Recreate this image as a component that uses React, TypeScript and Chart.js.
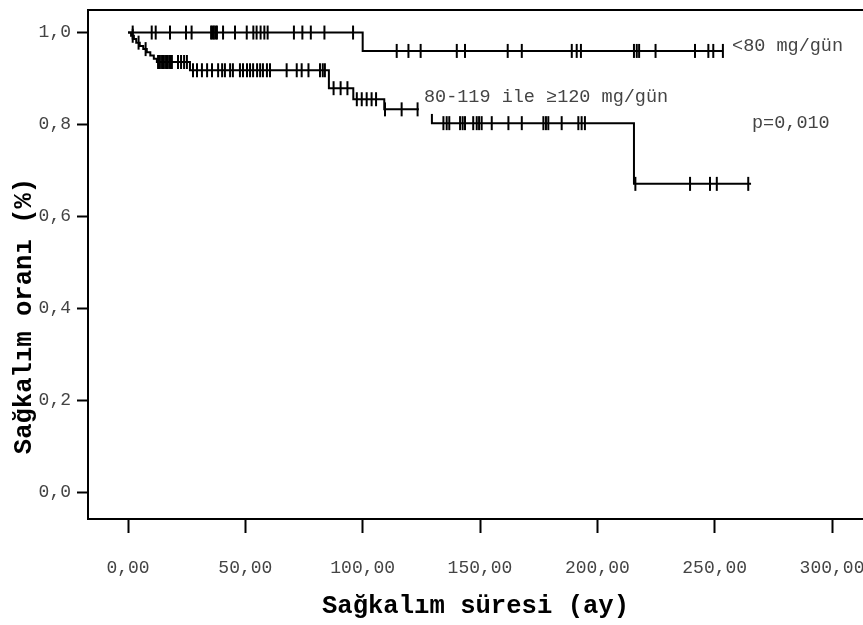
import React, { useEffect, useRef } from 'react';
import { Chart, registerables } from 'chart.js';

Chart.register(...registerables);

// ---- Axis ticks ----
const xTickValues = [0, 50, 100, 150, 200, 250, 300];
const yTickValues = [0, 0.2, 0.4, 0.6, 0.8, 1.0];

// ---- Group <80 mg/gün (Kaplan–Meier) ----
const lowEventTimes = [0, 100.0];
const lowSurvival = [1.0, 0.96];
const lowLastTime = 253.5;
const lowCensored = [
  2.0, 10.1, 11.8, 17.9, 24.7, 27.1, 35.4, 36.0, 36.6, 37.3, 37.9, 40.5, 45.6,
  50.6, 53.4, 54.8, 56.5, 58.1, 59.5, 70.7, 74.3, 77.9, 83.7, 95.9, 114.5,
  119.5, 124.7, 140.1, 143.6, 161.8, 167.8, 189.1, 191.2, 193.0, 215.6, 216.8,
  217.8, 224.8, 241.6, 247.3, 249.4, 253.5,
];

// ---- Group 80-119 ile ≥120 mg/gün (Kaplan–Meier) ----
const highEventTimes = [
  0, 1.3, 2.5, 3.5, 5.0, 6.5, 8.0, 9.5, 11.0, 12.3, 26.4, 85.6, 96.0, 109.2,
  129.5, 215.6,
];
const highSurvival = [
  1.0, 0.993, 0.986, 0.978, 0.971, 0.964, 0.957, 0.95, 0.943, 0.936, 0.918,
  0.879, 0.855, 0.833, 0.803, 0.671,
];
const highLastTime = 265.5;
const highCensored = [
  2.0, 4.5, 7.5, 12.8, 13.6, 14.5, 15.3, 16.2, 17.0, 17.9, 18.7, 21.3, 22.6,
  23.9, 25.1, 27.7, 29.4, 31.5, 33.7, 35.8, 38.4, 40.1, 41.3, 43.5, 44.7, 47.7,
  49.0, 50.7, 52.0, 53.3, 55.0, 56.3, 57.5, 59.2, 60.5, 67.6, 71.9, 74.0, 76.9,
  81.8, 83.0, 83.9, 87.6, 90.6, 93.5, 97.5, 99.6, 101.7, 103.8, 105.7, 109.5,
  116.6, 123.4, 134.4, 135.8, 136.9, 141.5, 142.6, 143.6, 147.1, 148.6, 149.6,
  150.7, 155.0, 162.1, 167.8, 177.0, 178.1, 179.1, 184.8, 191.9, 193.3, 194.7,
  216.2, 239.5, 248.0, 250.9, 264.3,
];

// ---- Texts ----
const lowLabel = '<80 mg/gün';
const highLabel = '80-119 ile ≥120 mg/gün';
const pValueLabel = 'p=0,010';
const xTitle = 'Sağkalım süresi (ay)';
const yTitle = 'Sağkalım oranı (%)';

// label anchors in data units [x, y]
const lowLabelAt = [257.4, 0.971];
const highLabelAt = [126.1, 0.86];
const pValueAt = [265.9, 0.803];

const MONO = '"Liberation Mono", "Courier New", monospace';

function stepPoints(times: number[], surv: number[], last: number) {
  const pts = times.map((t, i) => ({ x: t, y: surv[i] }));
  pts.push({ x: last, y: surv[surv.length - 1] });
  return pts;
}

function censorPoints(times: number[], surv: number[], cens: number[]) {
  return cens.map((c) => {
    let s = surv[0];
    for (let i = 0; i < times.length; i++) if (times[i] <= c) s = surv[i];
    return { x: c, y: s };
  });
}

const fmt = (v: number, d: number) => v.toFixed(d).replace('.', ',');

const annotatePlugin = {
  id: 'kmAnnotate',
  afterDatasetsDraw(chart: any) {
    const { ctx, chartArea, scales } = chart;
    const xs = scales.x;
    const ys = scales.y;
    ctx.save();
    // top frame line
    ctx.strokeStyle = '#000';
    ctx.lineWidth = 2;
    ctx.beginPath();
    ctx.moveTo(chartArea.left - 1, chartArea.top);
    ctx.lineTo(chartArea.right, chartArea.top);
    ctx.stroke();

    ctx.font = `18.5px ${MONO}`;
    ctx.textBaseline = 'middle';
    ctx.textAlign = 'left';

    // group label with white box (covers the curve behind it)
    const hx = xs.getPixelForValue(highLabelAt[0]);
    const hy = ys.getPixelForValue(highLabelAt[1]);
    const hw = ctx.measureText(highLabel).width;
    ctx.fillStyle = '#fff';
    ctx.fillRect(hx - 5, hy - 15, hw + 10, 32);
    ctx.fillStyle = '#444';
    ctx.fillText(highLabel, hx, hy);

    ctx.fillText(lowLabel, xs.getPixelForValue(lowLabelAt[0]), ys.getPixelForValue(lowLabelAt[1]));
    ctx.fillText(pValueLabel, xs.getPixelForValue(pValueAt[0]), ys.getPixelForValue(pValueAt[1]));

    ctx.restore();
  },
  afterDraw(chart: any) {
    const { ctx } = chart;
    ctx.save();
    ctx.font = `bold 25.6px ${MONO}`;
    ctx.fillStyle = '#000';
    ctx.textAlign = 'center';
    ctx.textBaseline = 'alphabetic';
    ctx.translate(31, 316);
    ctx.rotate(-Math.PI / 2);
    ctx.fillText(yTitle, 0, 0);
    ctx.restore();
  },
};

export default function App() {
  const ref = useRef<HTMLCanvasElement | null>(null);

  useEffect(() => {
    if (!ref.current) return;
    const chart = new Chart(ref.current, {
      type: 'line',
      data: {
        datasets: [
          {
            type: 'line',
            label: lowLabel,
            data: stepPoints(lowEventTimes, lowSurvival, lowLastTime),
            stepped: 'before',
            borderColor: '#000',
            borderWidth: 2,
            pointRadius: 0,
            fill: false,
          },
          {
            type: 'line',
            label: highLabel,
            data: stepPoints(highEventTimes, highSurvival, highLastTime),
            stepped: 'before',
            borderColor: '#000',
            borderWidth: 2,
            pointRadius: 0,
            fill: false,
          },
          {
            type: 'scatter',
            label: lowLabel + ' sansürlü',
            data: censorPoints(lowEventTimes, lowSurvival, lowCensored),
            pointStyle: 'line',
            rotation: 90,
            pointRadius: 7,
            pointBorderWidth: 2,
            borderColor: '#000',
            backgroundColor: '#000',
          },
          {
            type: 'scatter',
            label: highLabel + ' sansürlü',
            data: censorPoints(highEventTimes, highSurvival, highCensored),
            pointStyle: 'line',
            rotation: 90,
            pointRadius: 7,
            pointBorderWidth: 2,
            borderColor: '#000',
            backgroundColor: '#000',
          },
        ] as any,
      },
      options: {
        animation: false,
        responsive: false,
        maintainAspectRatio: false,
        layout: { autoPadding: false, padding: { top: 10, right: 0, left: 0, bottom: 0 } },
        plugins: {
          legend: { display: false },
          tooltip: { enabled: false },
          title: { display: false },
        },
        scales: {
          x: {
            type: 'linear',
            min: -17.05,
            max: 313.2,
            afterBuildTicks: (s: any) => {
              s.ticks = xTickValues.map((v) => ({ value: v }));
            },
            afterFit: (s: any) => {
              s.height = 106;
              s.paddingLeft = 0;
              s.paddingRight = 0;
            },
            ticks: {
              callback: (v: any) => fmt(Number(v), 2),
              font: { family: MONO, size: 18 },
              color: '#444',
              padding: 24,
              maxRotation: 0,
              autoSkip: false,
            },
            grid: {
              drawOnChartArea: false,
              drawTicks: true,
              tickLength: 14,
              tickWidth: 2,
              tickColor: '#000',
            },
            border: { display: true, color: '#000', width: 2 },
            title: {
              display: true,
              text: xTitle,
              color: '#000',
              font: { family: MONO, size: 25.6, weight: 'bold' },
              padding: { top: 0, bottom: 3 },
            },
          },
          y: {
            type: 'linear',
            min: -0.0576,
            max: 1.049,
            afterBuildTicks: (s: any) => {
              s.ticks = yTickValues.map((v) => ({ value: v }));
            },
            afterFit: (s: any) => {
              s.width = 88;
              s.paddingTop = 0;
              s.paddingBottom = 0;
            },
            ticks: {
              callback: (v: any) => fmt(Number(v), 1),
              font: { family: MONO, size: 18 },
              color: '#444',
              padding: 6,
            },
            grid: {
              drawOnChartArea: false,
              drawTicks: true,
              tickLength: 11,
              tickWidth: 2,
              tickColor: '#000',
            },
            border: { display: true, color: '#000', width: 2 },
          },
        },
      } as any,
      plugins: [annotatePlugin],
    });
    return () => chart.destroy();
  }, []);

  return (
    <div style={{ position: 'absolute', left: 0, top: 0, width: 863, height: 625, background: '#fff' }}>
      <canvas ref={ref} width={863} height={625} style={{ display: 'block' }} />
    </div>
  );
}
